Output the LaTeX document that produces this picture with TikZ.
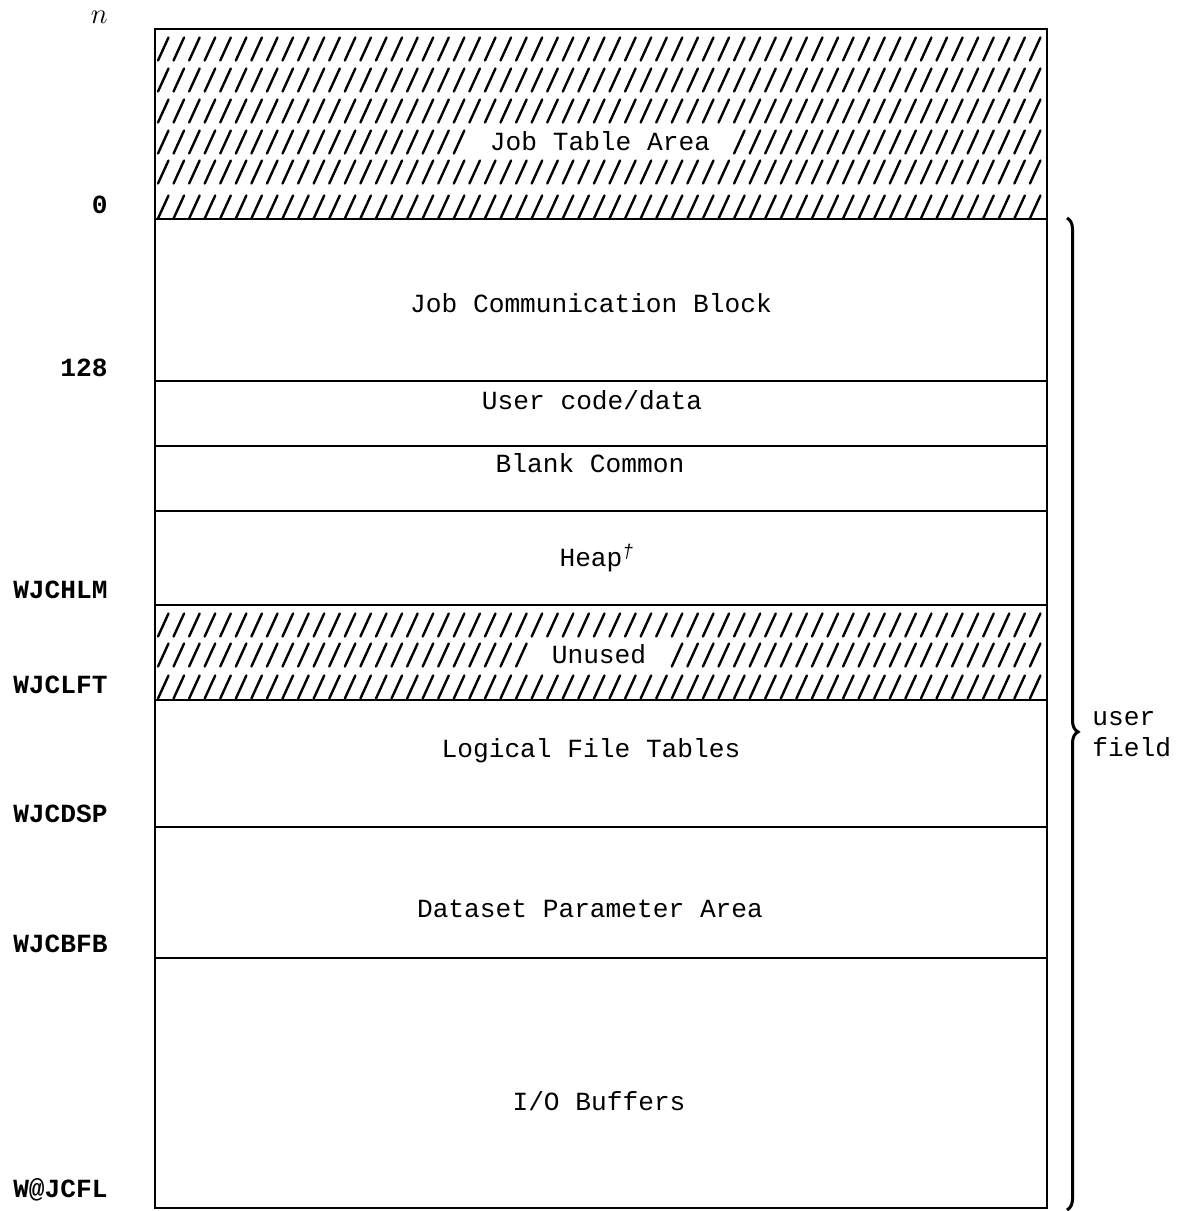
\documentclass[tikz,border=0pt]{standalone}
\usepackage{fontspec}
\setmonofont{Liberation Mono}
\usetikzlibrary{decorations.pathreplacing}
\newcommand\hslash[2]{\draw[hatch] ({158+15.57*#1},{#2+11.5}) -- ++(10.5,-23);}
\newcommand\hrow[3]{%
  \foreach \k in {0,...,56}{%
    \ifnum\k<#2 \hslash{\k}{#1}\else\ifnum\k>#3 \hslash{\k}{#1}\fi\fi}}
\begin{document}
\begin{tikzpicture}[x=0.5pt,y=-0.5pt,
  txt/.style={font=\ttfamily\fontsize{13.1}{15}\selectfont, inner sep=0pt, anchor=base},
  lab/.style={font=\ttfamily\bfseries\fontsize{13.1}{15}\selectfont, inner sep=0pt, anchor=base east},
  side/.style={font=\ttfamily\fontsize{13.1}{15}\selectfont, inner sep=0pt, anchor=base west},
  wall/.style={line width=1.3pt},
  hatch/.style={line width=1.2pt, line cap=round}]
\useasboundingbox (0,0) rectangle (1178,1211);

% hatching: job table area
\hrow{49}{100}{100}
\hrow{80}{100}{100}
\hrow{111}{100}{100}
\hrow{142}{20}{36}
\hrow{172}{100}{100}
\hrow{207}{100}{100}
% hatching: unused
\hrow{625}{100}{100}
\hrow{655}{24}{32}
\hrow{687}{100}{100}

% frame and divisions
\draw[wall] (155,29) rectangle (1047,1208);
\foreach \yy in {219,381,446,511,605,700,827,958}
  \draw[wall] (155,\yy) -- (1047,\yy);

% region texts
\node[txt] (jta) at (600,150) {Job Table Area};
\node[txt] (jcb) at (591,312) {Job Communication Block};
\node[txt] (ucd) at (592,409) {User code/data};
\node[txt] (blc) at (590,472) {Blank Common};
\node[txt] (hp)  at (597,566) {Heap\textsuperscript{\itshape †}};
\node[txt] (unu) at (599,663) {Unused};
\node[txt] (lft) at (591,757) {Logical File Tables};
\node[txt] (dpa) at (590,917) {Dataset Parameter Area};
\node[txt] (iob) at (599,1110) {I/O Buffers};

% address labels
\node[anchor=base east, inner sep=0pt, font=\fontsize{15}{17}\selectfont] (ln) at (108,23) {$n$};
\node[lab] (l0) at (108,213) {0};
\node[lab] (l128) at (108,376) {128};
\node[lab] (lhlm) at (108,598) {WJCHLM};
\node[lab] (llft) at (108,693) {WJCLFT};
\node[lab] (ldsp) at (108,822) {WJCDSP};
\node[lab] (lbfb) at (108,952) {WJCBFB};
\node[lab] (lcfl) at (108,1197) {W@JCFL};

% brace
\draw[wall, line width=1.5pt, decorate, decoration={brace, amplitude=5.5pt, aspect=0.518}] (1067,218) -- (1067,1210);
\node[side] (uf1) at (1092,725) {user};
\node[side] (uf2) at (1092,756) {field};
\end{tikzpicture}
\end{document}
